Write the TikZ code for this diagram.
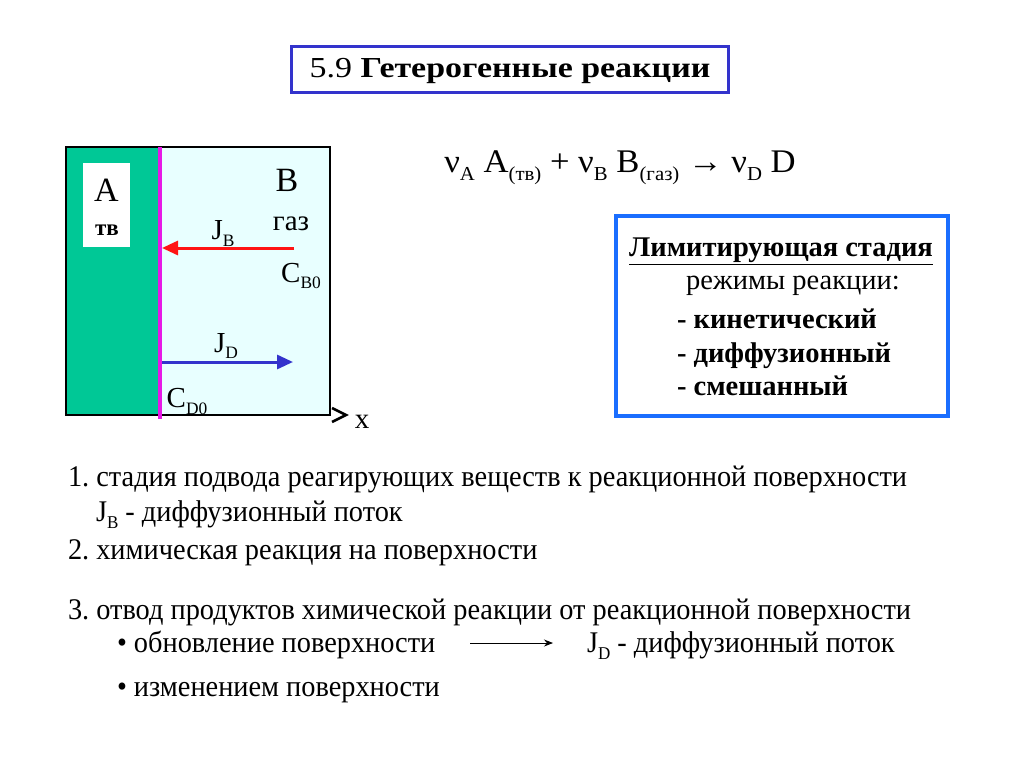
\documentclass[tikz,border=0pt]{standalone}
\usepackage{fontspec}
\setmainfont{Liberation Serif}
\newfontfamily\bodyfont[FakeStretch=0.945]{Liberation Serif}
\newfontfamily\titlefont[FakeStretch=1.17]{Liberation Serif}
\newfontfamily\eqfont[FakeStretch=1.05]{Liberation Serif}
\usetikzlibrary{arrows.meta}
\definecolor{solidgreen}{RGB}{0,200,150}
\definecolor{gascyan}{RGB}{232,255,255}
\definecolor{surfmag}{RGB}{230,25,230}
\definecolor{redarrow}{RGB}{255,20,20}
\definecolor{bluearrow}{RGB}{51,51,204}
\definecolor{titleblue}{RGB}{51,51,204}
\definecolor{boxblue}{RGB}{26,110,255}
\makeatletter
\newcommand{\sbs}[1]{\raisebox{-0.24em}{\fontsize{\the\dimexpr 0.6\dimexpr\f@size pt\relax\relax}{1pt}\selectfont #1}}
\makeatother
\tikzset{
  txt/.style={inner sep=0pt, outer sep=0pt, font=\bodyfont\fontsize{30}{32}\selectfont},
  boxtxt/.style={inner sep=0pt, outer sep=0pt, font=\fontsize{28.5}{30}\selectfont},
  lbl/.style={inner sep=0pt, outer sep=0pt, font=\fontsize{29}{31}\selectfont},
  flux/.style={line width=3pt, -{Triangle[length=16pt,width=14pt]}},
}
\frenchspacing
\begin{document}
\begin{tikzpicture}[x=1pt,y=-1pt]
\frenchspacing
\useasboundingbox[fill=white] (0,0) rectangle (1024,768);
% title
\draw[titleblue, line width=3pt] (291,47) rectangle (728,92);
\node[inner sep=0pt, font=\titlefont\fontsize{29}{31}\selectfont] (title) at (510,71) {5.9 \textbf{Гетерогенные реакции}};
% diagram
\fill[solidgreen] (66,147) rectangle (159,415);
\fill[gascyan] (159,147) rectangle (330,415);
\draw[line width=1.2pt] (66,147) rectangle (330,415);
\draw[surfmag, line width=3.5pt] (160,147) -- (160,419);
\fill[white] (83,163) rectangle (130,247);
\node[lbl, font=\fontsize{34}{36}\selectfont] (A) at (106.5,190) {A};
\node[lbl, font=\bfseries\fontsize{23}{25}\selectfont] (tv) at (107,230) {тв};
\node[lbl, font=\fontsize{34}{36}\selectfont] (B) at (287,180) {B};
\node[lbl] (gaz) at (291,224) {газ};
\coordinate (jbs) at (294,248);
\coordinate (jbe) at (162,248);
\draw[flux, redarrow] (jbs) -- (jbe);
\node[lbl] (JB) at (223,234) {J\sbs{B}};
\node[lbl] (CB0) at (301,276) {C\sbs{B0}};
\coordinate (jds) at (162,362);
\coordinate (jde) at (293,362);
\draw[flux, bluearrow] (jds) -- (jde);
\node[lbl] (JD) at (226,346) {J\sbs{D}};
\node[lbl] (CD0) at (187,401) {C\sbs{D0}};
\coordinate (xa) at (332,408);
\coordinate (xb) at (346,415);
\coordinate (xc) at (332,422);
\draw[line width=2.5pt] (xa) -- (xb) -- (xc);
\node[lbl] (x) at (362,422) {x};
% equation
\node[inner sep=0pt, font=\eqfont\fontsize{33}{35}\selectfont] (eq) at (620,168)
  {ν\sbs{A} A\sbs{(тв)} + ν\sbs{B} B\sbs{(газ)} → ν\sbs{D} D};
% right box
\draw[boxblue, line width=3.5pt] (616,216) rectangle (948,416);
\node[boxtxt, font=\bfseries\fontsize{28.5}{30}\selectfont] (lim) at (781,251) {\underline{Лимитирующая стадия}};
\node[boxtxt] (reg) at (793,286) {режимы реакции:};
\node[boxtxt, anchor=base west, font=\bfseries\fontsize{28.5}{30}\selectfont] (k1) at (677,328) {- кинетический};
\node[boxtxt, anchor=base west, font=\bfseries\fontsize{28.5}{30}\selectfont] (k2) at (677,362) {- диффузионный};
\node[boxtxt, anchor=base west, font=\bfseries\fontsize{28.5}{30}\selectfont] (k3) at (677,395) {- смешанный};
% bottom text
\node[txt, anchor=base west] (l1) at (68,486) {1. стадия подвода реагирующих веществ к реакционной поверхности};
\node[txt, anchor=base west] (l1b) at (96,521) {J\sbs{B} - диффузионный поток};
\node[txt, anchor=base west] (l2) at (68,559) {2. химическая реакция на поверхности};
\node[txt, anchor=base west] (l3) at (68,619) {3. отвод продуктов химической реакции от реакционной поверхности};
\node[txt, anchor=base west] (b1) at (117,652) {• обновление поверхности};
\coordinate (as) at (470,643);
\coordinate (ae) at (553,643);
\draw[line width=1pt, -{Stealth[length=9pt,width=7pt]}] (as) -- (ae);
\node[txt, anchor=base west] (b1r) at (587,652) {J\sbs{D} - диффузионный поток};
\node[txt, anchor=base west] (b2) at (117,696) {• изменением поверхности};
\end{tikzpicture}
\end{document}
